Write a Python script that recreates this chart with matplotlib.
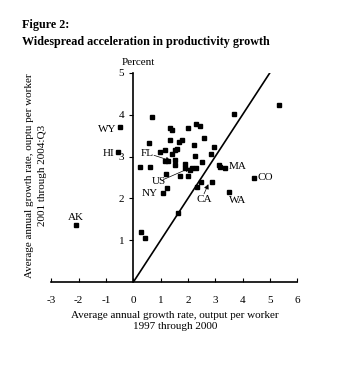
import matplotlib
matplotlib.use("Agg")
import matplotlib.pyplot as plt

plt.rcParams['font.family'] = ['Liberation Serif', 'DejaVu Serif']

# growth 1997-2000 (x) vs growth 2001-2004:Q3 (y), percent
x_growth = [0.68, -0.49, -0.56, 0.58, 0.26, 0.62, 0.98, 1.15, 1.16, 1.34,
            1.34, 1.42, 1.41, 1.53, 1.59, 1.66, 1.77, 1.53, 1.53, 1.27,
            1.20, 1.22, 1.09, 1.71, 1.90, 1.90, 1.99, 2.01, 2.31, 2.43,
            2.58, 2.23, 2.26, 2.14, 2.29, 2.08, 2.53, 2.85, 2.97, 3.70,
            5.33, 3.15, 3.19, 3.36, 4.42, 3.51, 2.88, 2.48, 2.35, 1.63,
            0.28, 0.44, -2.09]
y_growth = [3.94, 3.70, 3.12, 3.32, 2.75, 2.75, 3.12, 3.16, 2.90, 3.40,
            3.68, 3.63, 3.06, 3.15, 3.18, 3.35, 3.39, 2.93, 2.79, 2.90,
            2.58, 2.26, 2.13, 2.53, 2.83, 2.73, 2.53, 3.69, 3.78, 3.73,
            3.44, 3.28, 3.01, 2.73, 2.73, 2.69, 2.87, 3.07, 3.23, 4.01,
            4.22, 2.80, 2.75, 2.72, 2.50, 2.16, 2.39, 2.39, 2.28, 1.65,
            1.20, 1.05, 1.37]

# plain labels: (text, x, y, ha)
labels = [("WY", -0.97, 3.64, "center"), ("HI", -0.89, 3.08, "center"),
          ("AK", -2.09, 1.55, "center"), ("NY", 0.88, 2.11, "right"),
          ("MA", 3.81, 2.77, "center"), ("CO", 4.85, 2.50, "center"),
          ("WA", 3.82, 1.96, "center")]
# arrow labels: (text, text pos, arrow start, arrow end)
arrow_labels = [("FL", (0.51, 3.08), (0.76, 3.03), (1.37, 2.90)),
                ("US", (0.93, 2.41), (1.10, 2.45), (2.08, 2.73)),
                ("CA", (2.59, 1.97), (2.59, 2.11), (2.75, 2.34))]

fig = plt.figure(figsize=(3.4, 3.66), dpi=100)
ax = fig.add_axes([0.151, 0.229, 0.723, 0.572])

ax.plot([0, 5], [0, 5], color="black", lw=1.2)
ax.plot(x_growth, y_growth, "s", color="black", ms=3, ls="none")

for txt, lx, ly, ha in labels:
    ax.text(lx, ly, txt, ha=ha, va="center", fontsize=8)

for txt, tpos, start, end in arrow_labels:
    ax.text(tpos[0], tpos[1], txt, ha="center", va="center", fontsize=8)
    ax.annotate("", xy=end, xytext=start,
                arrowprops=dict(arrowstyle="-|>", color="black", lw=0.5,
                                mutation_scale=7, shrinkA=0, shrinkB=0))

ax.set_xlim(-3, 6)
ax.set_ylim(0, 5)
ax.spines['left'].set_position(('data', 0))
ax.spines['top'].set_visible(False)
ax.spines['right'].set_visible(False)
ax.spines['left'].set_linewidth(1.2)
ax.spines['bottom'].set_linewidth(1.2)
ax.set_xticks(range(-3, 7))
ax.set_yticks([1, 2, 3, 4, 5])
ax.tick_params(axis='x', direction='in', length=3, labelsize=8, pad=10)
ax.tick_params(axis='y', direction='out', length=3, labelsize=8)
ax.set_xticklabels([str(v) for v in range(-3, 7)])

ax.text(0.2, 5.14, "Percent", ha="center", va="bottom", fontsize=8)

fig.text(0.065, 0.932, "Figure 2:", fontsize=8.7, fontweight="bold", va="center")
fig.text(0.065, 0.885, "Widespread acceleration in productivity growth",
         fontsize=8.7, fontweight="bold", va="center")

fig.text(0.515, 0.123, "Average annual growth rate, output per worker\n1997 through 2000",
         ha="center", va="center", fontsize=8, linespacing=1.35)
fig.text(0.106, 0.52, "Average annual growth rate, ouptu per worker\n2001 through 2004:Q3",
         ha="center", va="center", rotation=90, fontsize=8, linespacing=1.45)

fig.savefig("out.png", dpi=100)
